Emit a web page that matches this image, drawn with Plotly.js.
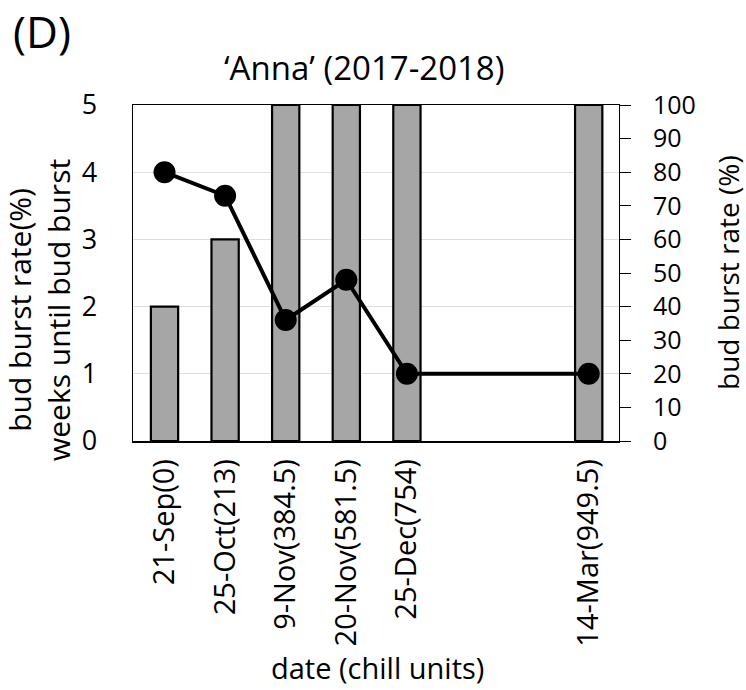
<!DOCTYPE html>
<html>
<head>
<meta charset="utf-8">
<script src="https://cdn.plot.ly/plotly-3.0.1.min.js"></script>
<style>html,body{margin:0;padding:0;background:#fff;}#chart{width:746px;height:690px;}</style>
</head>
<body>
<div id="chart"></div>
<script>
var categories = ['21-Sep(0)', '25-Oct(213)', '9-Nov(384.5)', '20-Nov(581.5)', '25-Dec(754)', '14-Mar(949.5)'];
var positions = [0, 1, 2, 3, 4, 7];
var burstRate = [40, 60, 100, 100, 100, 100];
var weeksUntil = [4.0, 3.65, 1.8, 2.4, 1.0, 1.0];
var leftTicks = [0, 1, 2, 3, 4, 5];
var rightTicks = [0, 10, 20, 30, 40, 50, 60, 70, 80, 90, 100];

var FONT = 'Open Sans, Noto Sans, sans-serif';
var L = 133, R = 619, T = 105, B = 441;
var PW = R - L, PH = B - T;
function px(x) { return (x - L) / PW; }
function py(y) { return (B - y) / PH; }

var bars = {
  type: 'bar', x: positions, y: burstRate, yaxis: 'y', xaxis: 'x',
  width: 0.45,
  marker: {color: '#a6a6a6', line: {color: '#000', width: 2.2}},
  hoverinfo: 'skip', showlegend: false
};
var line = {
  type: 'scatter', mode: 'lines+markers', x: positions, y: weeksUntil,
  yaxis: 'y2', xaxis: 'x',
  line: {color: '#000', width: 4},
  marker: {color: '#000', size: 22},
  cliponaxis: false, showlegend: false
};

var layout = {
  width: 746, height: 690,
  margin: {l: L, r: 746 - R, t: T, b: 690 - B},
  paper_bgcolor: '#fff', plot_bgcolor: '#fff',
  font: {family: FONT, size: 26, color: '#000'},
  showlegend: false,
  xaxis: {
    range: [-0.52, 7.5], tickmode: 'array', tickvals: positions, ticktext: categories,
    tickangle: -90, ticks: '', showgrid: false, zeroline: false,
    showline: true, linecolor: '#000', linewidth: 1.5, mirror: true,
    tickfont: {family: FONT, size: 29, color: '#000'}, ticklabelstandoff: 5
  },
  yaxis: {
    side: 'right', range: [0, 100], tickmode: 'array', tickvals: rightTicks,
    ticks: 'outside', ticklen: 11, tickwidth: 1, tickcolor: '#000',
    showline: true, linecolor: '#000', linewidth: 1, showgrid: false, zeroline: false,
    tickfont: {family: FONT, size: 25, color: '#000'}, ticklabelstandoff: 17
  },
  yaxis2: {
    overlaying: 'y', side: 'left', range: [0, 5], tickmode: 'array', tickvals: leftTicks,
    ticks: '', showgrid: true, gridcolor: '#dedede', gridwidth: 1, zeroline: false,
    showline: true, linecolor: '#000', linewidth: 1.5,
    tickfont: {family: FONT, size: 27, color: '#000'}, ticklabelstandoff: 29
  },
  annotations: [
    {text: '(D)', xref: 'paper', yref: 'paper', x: px(11), y: py(31), xanchor: 'left', yanchor: 'middle',
     showarrow: false, font: {family: FONT, size: 44, color: '#000'}},
    {text: '\u2018Anna\u2019 (2017-2018)', xref: 'paper', yref: 'paper', x: px(364), y: py(68),
     xanchor: 'center', yanchor: 'middle', showarrow: false, font: {family: FONT, size: 33, color: '#000'}},
    {text: 'bud burst rate(%)<br>weeks until bud burst', xref: 'paper', yref: 'paper',
     x: px(39), y: py(310), xanchor: 'center', yanchor: 'middle', textangle: -90,
     showarrow: false, font: {family: FONT, size: 30, color: '#000'}},
    {text: 'bud burst rate (%)', xref: 'paper', yref: 'paper',
     x: px(728), y: py(273), xanchor: 'center', yanchor: 'middle', textangle: -90,
     showarrow: false, font: {family: FONT, size: 28, color: '#000'}},
    {text: 'date (chill units)', xref: 'paper', yref: 'paper',
     x: px(377), y: py(667), xanchor: 'center', yanchor: 'middle',
     showarrow: false, font: {family: FONT, size: 29, color: '#000'}}
  ]
};

Plotly.newPlot('chart', [bars, line], layout, {displayModeBar: false, staticPlot: true});
</script>
</body>
</html>
